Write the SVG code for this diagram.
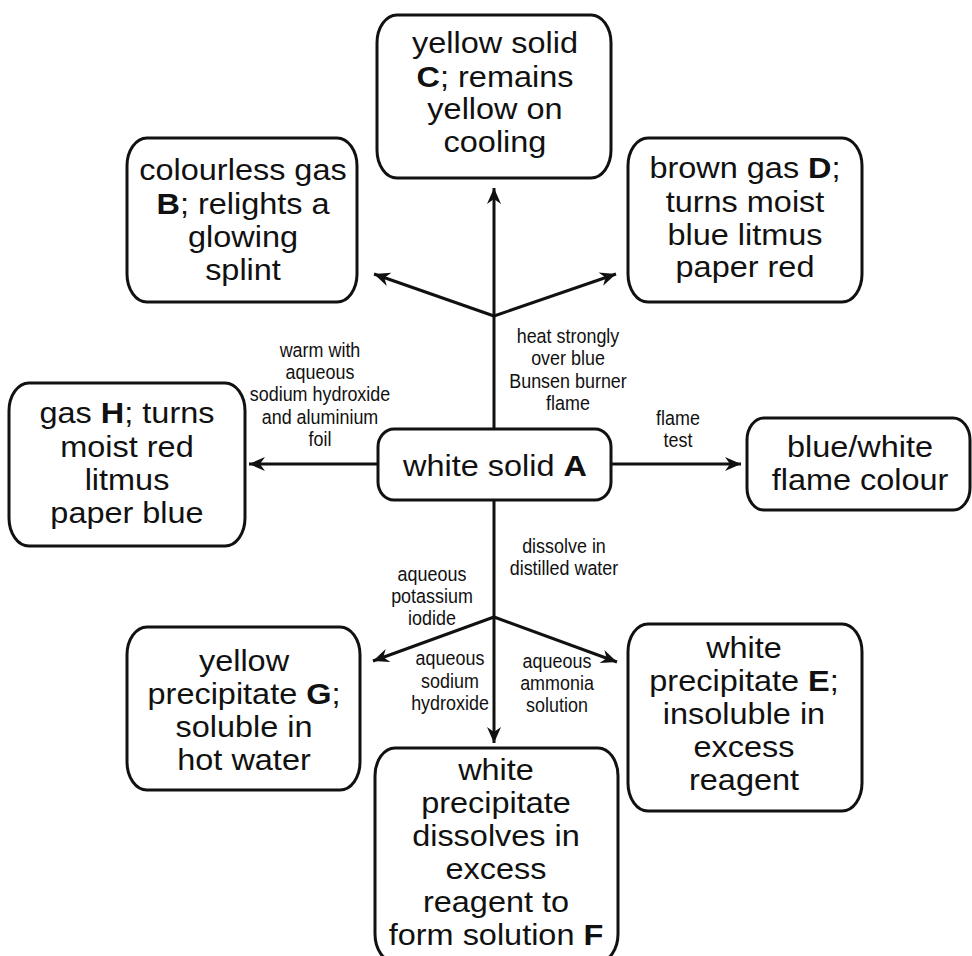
<svg xmlns="http://www.w3.org/2000/svg" width="972" height="956" viewBox="0 0 972 956">
<defs>
<style>
.box{fill:#fff;stroke:#111;stroke-width:3}
.t{font-family:"Liberation Sans",Arial,sans-serif;font-size:29.5px;fill:#111;text-anchor:middle}
.s{font-family:"Liberation Sans",Arial,sans-serif;font-size:19.5px;fill:#111;text-anchor:middle}
.b{font-weight:bold}
.ln{stroke:#111;stroke-width:3;fill:none}
</style>
<marker id="ah" viewBox="-17 -8 18 16" refX="0" refY="0" markerWidth="18" markerHeight="16" markerUnits="userSpaceOnUse" orient="auto">
<path d="M0,0 L-16,-7 L-11,0 L-16,7 Z" fill="#111"/>
</marker>
</defs>
<rect width="972" height="956" fill="#fff"/>

<g id="connectors">
<line class="ln" x1="494" y1="429" x2="494" y2="188" marker-end="url(#ah)"/>
<line class="ln" x1="494" y1="316" x2="374" y2="274" marker-end="url(#ah)"/>
<line class="ln" x1="494" y1="316" x2="616" y2="274" marker-end="url(#ah)"/>
<line class="ln" x1="378" y1="464" x2="249" y2="464" marker-end="url(#ah)"/>
<line class="ln" x1="611" y1="464" x2="741" y2="464" marker-end="url(#ah)"/>
<line class="ln" x1="494" y1="500" x2="494" y2="743" marker-end="url(#ah)"/>
<line class="ln" x1="494" y1="617" x2="373" y2="661" marker-end="url(#ah)"/>
<line class="ln" x1="494" y1="617" x2="617" y2="662" marker-end="url(#ah)"/>
<g id="labels">
<g transform="translate(320 0) scale(0.92 1)">
<text class="s" x="0" y="357">warm with</text>
<text class="s" x="0" y="379">aqueous</text>
<text class="s" x="0" y="401">sodium hydroxide</text>
<text class="s" x="0" y="424">and aluminium</text>
<text class="s" x="0" y="446">foil</text>
</g>
<g transform="translate(568 0) scale(0.92 1)">
<text class="s" x="0" y="343">heat strongly</text>
<text class="s" x="0" y="365">over blue</text>
<text class="s" x="0" y="388">Bunsen burner</text>
<text class="s" x="0" y="410">flame</text>
</g>
<g transform="translate(678 0) scale(0.92 1)">
<text class="s" x="0" y="425">flame</text>
<text class="s" x="0" y="447">test</text>
</g>
<g transform="translate(564 0) scale(0.92 1)">
<text class="s" x="0" y="553">dissolve in</text>
<text class="s" x="0" y="575">distilled water</text>
</g>
<g transform="translate(432 0) scale(0.92 1)">
<text class="s" x="0" y="581">aqueous</text>
<text class="s" x="0" y="603">potassium</text>
<text class="s" x="0" y="625">iodide</text>
</g>
<g transform="translate(450 0) scale(0.92 1)">
<text class="s" x="0" y="665">aqueous</text>
<text class="s" x="0" y="688">sodium</text>
<text class="s" x="0" y="710">hydroxide</text>
</g>
<g transform="translate(557 0) scale(0.92 1)">
<text class="s" x="0" y="668">aqueous</text>
<text class="s" x="0" y="690">ammonia</text>
<text class="s" x="0" y="712">solution</text>
</g>
</g>
</g>

<g id="nodeA">
<rect class="box" x="378" y="429" width="233" height="71" rx="16" ry="18"/>
<g transform="translate(495 0) scale(1.1 1)">
<text class="t" x="0" y="476">white solid <tspan class="b">A</tspan></text>
</g>
</g>

<g id="nodeC">
<rect class="box" x="377" y="15" width="234" height="163" rx="20" ry="28"/>
<g transform="translate(495 0) scale(1.1 1)">
<text class="t" x="0" y="53">yellow solid</text>
<text class="t" x="0" y="87"><tspan class="b">C</tspan>; remains</text>
<text class="t" x="0" y="119">yellow on</text>
<text class="t" x="0" y="152">cooling</text>
</g>
</g>

<g id="nodeB">
<rect class="box" x="127" y="138" width="230" height="164" rx="20" ry="28"/>
<g transform="translate(243 0) scale(1.1 1)">
<text class="t" x="0" y="180">colourless gas</text>
<text class="t" x="0" y="214"><tspan class="b">B</tspan>; relights a</text>
<text class="t" x="0" y="247">glowing</text>
<text class="t" x="0" y="280">splint</text>
</g>
</g>

<g id="nodeD">
<rect class="box" x="628" y="138" width="234" height="164" rx="20" ry="28"/>
<g transform="translate(745 0) scale(1.1 1)">
<text class="t" x="0" y="178">brown gas <tspan class="b">D</tspan>;</text>
<text class="t" x="0" y="212">turns moist</text>
<text class="t" x="0" y="245">blue litmus</text>
<text class="t" x="0" y="277">paper red</text>
</g>
</g>

<g id="nodeH">
<rect class="box" x="9" y="383" width="236" height="163" rx="20" ry="28"/>
<g transform="translate(127 0) scale(1.1 1)">
<text class="t" x="0" y="423">gas <tspan class="b">H</tspan>; turns</text>
<text class="t" x="0" y="457">moist red</text>
<text class="t" x="0" y="490">litmus</text>
<text class="t" x="0" y="523">paper blue</text>
</g>
</g>

<g id="nodeFlame">
<rect class="box" x="747" y="418" width="223" height="92" rx="17" ry="22"/>
<g transform="translate(860 0) scale(1.1 1)">
<text class="t" x="0" y="457">blue/white</text>
<text class="t" x="0" y="490">flame colour</text>
</g>
</g>

<g id="nodeG">
<rect class="box" x="127" y="627" width="233" height="163" rx="20" ry="28"/>
<g transform="translate(244 0) scale(1.1 1)">
<text class="t" x="0" y="671">yellow</text>
<text class="t" x="0" y="704">precipitate <tspan class="b">G</tspan>;</text>
<text class="t" x="0" y="737">soluble in</text>
<text class="t" x="0" y="770">hot water</text>
</g>
</g>

<g id="nodeE">
<rect class="box" x="628" y="624" width="234" height="187" rx="20" ry="28"/>
<g transform="translate(744 0) scale(1.1 1)">
<text class="t" x="0" y="658">white</text>
<text class="t" x="0" y="691">precipitate <tspan class="b">E</tspan>;</text>
<text class="t" x="0" y="724">insoluble in</text>
<text class="t" x="0" y="757">excess</text>
<text class="t" x="0" y="790">reagent</text>
</g>
</g>

<g id="nodeF">
<rect class="box" x="375" y="748" width="243" height="214" rx="20" ry="28"/>
<g transform="translate(496 0) scale(1.1 1)">
<text class="t" x="0" y="780">white</text>
<text class="t" x="0" y="813">precipitate</text>
<text class="t" x="0" y="846">dissolves in</text>
<text class="t" x="0" y="879">excess</text>
<text class="t" x="0" y="912">reagent to</text>
<text class="t" x="0" y="945">form solution <tspan class="b">F</tspan></text>
</g>
</g>
</svg>
